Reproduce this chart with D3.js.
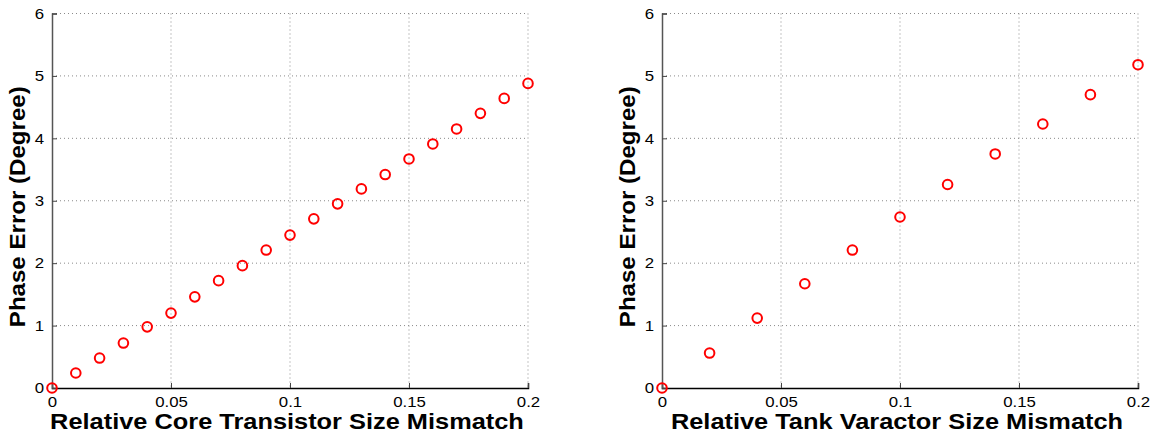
<!DOCTYPE html>
<html>
<head>
<meta charset="utf-8">
<script src="https://cdn.jsdelivr.net/npm/d3@7"></script>
<style>
  html, body { margin: 0; padding: 0; background: #fff; }
  svg { display: block; }
</style>
</head>
<body>
<svg id="chart" width="1156" height="435"></svg>
<script>
// Phase error vs. relative mismatch, core transistor sweep
const coreMismatch = [0, 0.01, 0.02, 0.03, 0.04, 0.05, 0.06, 0.07, 0.08, 0.09, 0.10,
                      0.11, 0.12, 0.13, 0.14, 0.15, 0.16, 0.17, 0.18, 0.19, 0.20];
const corePhaseError = [0, 0.24, 0.48, 0.72, 0.98, 1.20, 1.46, 1.72, 1.96, 2.21, 2.45,
                        2.71, 2.95, 3.19, 3.42, 3.67, 3.91, 4.15, 4.40, 4.64, 4.88];

// Tank varactor sweep
const tankMismatch = [0, 0.02, 0.04, 0.06, 0.08, 0.10, 0.12, 0.14, 0.16, 0.18, 0.20];
const tankPhaseError = [0, 0.56, 1.12, 1.67, 2.21, 2.74, 3.26, 3.75, 4.23, 4.70, 5.18];

const xTicks = [0, 0.05, 0.1, 0.15, 0.2];
const xTickLabels = ["0", "0.05", "0.1", "0.15", "0.2"];
const yTicks = [0, 1, 2, 3, 4, 5, 6];
const yTickLabels = ["0", "1", "2", "3", "4", "5", "6"];

const yLabel = "Phase Error (Degree)";
const panels = [
  { xs: coreMismatch, ys: corePhaseError, xLabel: "Relative Core Transistor Size Mismatch", left: 52, right: 528 },
  { xs: tankMismatch, ys: tankPhaseError, xLabel: "Relative Tank Varactor Size Mismatch", left: 662, right: 1138 }
];

const FONT = "Liberation Sans, Arial, Helvetica, sans-serif";

// widen a text element horizontally, keeping its anchor
function widen(sel, k) {
  sel.each(function () {
    const len = this.getComputedTextLength();
    d3.select(this).attr("textLength", len * k).attr("lengthAdjust", "spacingAndGlyphs");
  });
}

const svg = d3.select("#chart");
const plotTop = 13.5, plotBottom = 388;

panels.forEach(p => {
  const x = d3.scaleLinear().domain([0, 0.2]).range([p.left, p.right]);
  const y = d3.scaleLinear().domain([0, 6]).range([plotBottom, plotTop]);
  const g = svg.append("g");

  // dotted grid
  g.append("g").selectAll("line").data(xTicks.slice(1)).join("line")
    .attr("x1", d => x(d)).attr("x2", d => x(d))
    .attr("y1", plotTop).attr("y2", plotBottom)
    .attr("stroke", "#8a8a8a").attr("stroke-width", 1).attr("stroke-dasharray", "1,3");
  g.append("g").selectAll("line").data(yTicks.slice(1)).join("line")
    .attr("x1", p.left).attr("x2", p.right)
    .attr("y1", d => y(d)).attr("y2", d => y(d))
    .attr("stroke", "#8a8a8a").attr("stroke-width", 1).attr("stroke-dasharray", "1,3");

  // bottom axis with inward ticks
  const xAxis = d3.axisBottom(x).tickValues(xTicks)
    .tickFormat((d, i) => xTickLabels[i]).tickSize(-5).tickPadding(8);
  const xa = g.append("g").attr("transform", `translate(0,${plotBottom})`).call(xAxis);
  xa.select(".domain").attr("stroke", "#000").attr("stroke-width", 1.5);
  xa.selectAll(".tick line").attr("stroke", "#444");
  xa.selectAll(".tick text").attr("font-size", 15)
    .attr("font-family", FONT).attr("fill", "#000").call(widen, 1.12);

  // left axis with inward ticks
  const yAxis = d3.axisLeft(y).tickValues(yTicks)
    .tickFormat((d, i) => yTickLabels[i]).tickSize(-5).tickPadding(8);
  const ya = g.append("g").attr("transform", `translate(${p.left},0)`).call(yAxis);
  ya.select(".domain").attr("stroke", "#555").attr("stroke-width", 1.5);
  ya.selectAll(".tick line").attr("stroke", "#444");
  ya.selectAll(".tick text").attr("font-size", 15)
    .attr("font-family", FONT).attr("fill", "#000").call(widen, 1.12);

  // markers
  g.append("g").selectAll("circle").data(p.xs.map((v, i) => [v, p.ys[i]])).join("circle")
    .attr("cx", d => x(d[0])).attr("cy", d => y(d[1])).attr("r", 4.8)
    .attr("fill", "none").attr("stroke", "#ff0000").attr("stroke-width", 2);

  // axis titles
  g.append("text")
    .attr("x", (p.left + p.right) / 2 - 3).attr("y", 428.5)
    .attr("text-anchor", "middle").attr("font-size", 21.5).attr("font-weight", "bold")
    .attr("font-family", FONT).attr("fill", "#000")
    .text(p.xLabel).call(widen, 1.18);
  g.append("text")
    .attr("transform", `translate(${p.left - 27},${(plotTop + plotBottom) / 2 + 6}) rotate(-90)`)
    .attr("text-anchor", "middle").attr("font-size", 21.5).attr("font-weight", "bold")
    .attr("font-family", FONT).attr("fill", "#000")
    .text(yLabel).call(widen, 1.12);
});
</script>
</body>
</html>
